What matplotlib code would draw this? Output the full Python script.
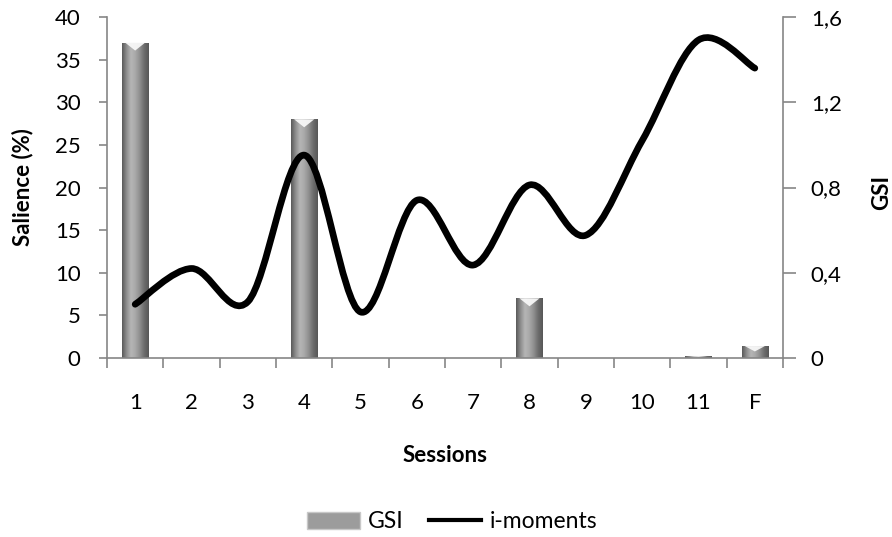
import numpy as np
import matplotlib
matplotlib.use("Agg")
import matplotlib.pyplot as plt
from matplotlib.path import Path
from matplotlib.patches import PathPatch, Polygon, Patch
from matplotlib.lines import Line2D
from matplotlib.colors import LinearSegmentedColormap

# ---- data ----
sessions = ["1", "2", "3", "4", "5", "6", "7", "8", "9", "10", "11", "F"]
gsi = [1.48, 0, 0, 1.12, 0, 0, 0, 0.28, 0, 0, 0.01, 0.056]
i_moments = [6.3, 10.5, 6.6, 23.8, 5.4, 18.5, 10.9, 20.3, 14.4, 25.5, 37.3, 34.0]
left_ticks = [0, 5, 10, 15, 20, 25, 30, 35, 40]
right_ticks = [0, 0.4, 0.8, 1.2, 1.6]
right_tick_labels = ["0", "0,4", "0,8", "1,2", "1,6"]

plt.rcParams['font.family'] = ['Lato', 'DejaVu Sans']
GRAY = '#868686'
FS = 16

W, H = 892, 537
fig = plt.figure(figsize=(W / 100, H / 100), dpi=100)
L, R, T, B = 107, 783, 17, 358
ax = fig.add_axes([L / W, 1 - B / H, (R - L) / W, (B - T) / H])
ax2 = ax.twinx()
ax.set_zorder(ax2.get_zorder() + 1)
ax.patch.set_visible(False)

x = np.arange(len(sessions))
ax.set_xlim(-0.5, len(sessions) - 0.5)
ax.set_ylim(left_ticks[0], left_ticks[-1])
ax2.set_ylim(right_ticks[0], right_ticks[-1])

# ---- bars (GSI, right axis) with cylinder-like gradient ----
bars = ax2.bar(x, gsi, width=0.47, facecolor='none', edgecolor='none')
cmap = LinearSegmentedColormap.from_list(
    'cyl', ['#5a5a5a', '#8e8e8e', '#b6b6b6', '#a8a8a8', '#8e8e8e', '#6c6c6c', '#575757'])
grad = np.linspace(0, 1, 64).reshape(1, -1)
px_per_unit = (B - T) / (right_ticks[-1] - right_ticks[0])
for b in bars:
    x0, w, h = b.get_x(), b.get_width(), b.get_height()
    if h <= 0:
        continue
    im = ax2.imshow(grad, cmap=cmap, extent=[x0, x0 + w, 0, h], aspect='auto',
                    interpolation='bicubic', zorder=2)
    im.set_clip_path(b)
    cap = min(8 / px_per_unit, h * 0.45)
    tri = Polygon([[x0 + 0.12 * w, h], [x0 + 0.88 * w, h], [x0 + 0.5 * w, h - cap]],
                  closed=True, facecolor='#f8f8f8', edgecolor='none', alpha=0.95, zorder=3)
    ax2.add_patch(tri)
ax2.set_xlim(-0.5, len(sessions) - 0.5)
ax2.set_ylim(right_ticks[0], right_ticks[-1])

# ---- smoothed line (i-moments, left axis) ----
pts = np.column_stack([x, i_moments]).astype(float)
verts = [pts[0]]
codes = [Path.MOVETO]
n = len(pts)
for i in range(n - 1):
    p0 = pts[i - 1] if i > 0 else pts[i]
    p1 = pts[i]
    p2 = pts[i + 1]
    p3 = pts[i + 2] if i + 2 < n else pts[i + 1]
    c1 = p1 + (p2 - p0) / 6.0
    c2 = p2 - (p3 - p1) / 6.0
    verts += [c1, c2, p2]
    codes += [Path.CURVE4] * 3
ax.add_patch(PathPatch(Path(verts, codes), facecolor='none', edgecolor='black',
                       lw=4.8, capstyle='round', joinstyle='round', zorder=5))

# ---- axes styling ----
for s in ['top', 'right']:
    ax.spines[s].set_visible(False)
for s in ['top', 'left', 'bottom']:
    ax2.spines[s].set_visible(False)
for s in ['left', 'bottom']:
    ax.spines[s].set_color(GRAY)
    ax.spines[s].set_linewidth(1.2)
ax2.spines['right'].set_color(GRAY)
ax2.spines['right'].set_linewidth(1.2)

ax.set_yticks(left_ticks)
ax.set_yticklabels([str(v) for v in left_ticks])
ax.tick_params(axis='y', direction='out', length=6, width=1.2, color=GRAY,
               labelsize=FS, pad=13)
ax.set_xticks(x)
ax.set_xticklabels(sessions)
ax.set_xticks(np.arange(len(sessions) + 1) - 0.5, minor=True)
ax.tick_params(axis='x', which='major', length=0, labelsize=FS, pad=25)
ax.tick_params(axis='x', which='minor', direction='out', length=7, width=1.2, color=GRAY)

ax2.set_yticks(right_ticks)
ax2.set_yticklabels(right_tick_labels)
ax2.tick_params(axis='y', direction='out', length=9, width=1.2, color=GRAY,
                labelsize=FS, pad=11)

ax.set_xlabel('Sessions', fontsize=FS, fontweight='bold', va='center')
ax.xaxis.set_label_coords(0.5, (B - 455) / (B - T))
ax.set_ylabel('Salience (%)', fontsize=FS, fontweight='bold', va='center')
ax.yaxis.set_label_coords((23 - L) / (R - L), (B - 187) / (B - T))
ax2.set_ylabel('GSI', fontsize=FS, fontweight='bold', va='center', rotation=90)
ax2.yaxis.set_label_coords((882 - L) / (R - L), (B - 192) / (B - T))

# ---- legend ----
handles = [Patch(facecolor='#9c9c9c', edgecolor='#c8c8c8', linewidth=1.0),
           Line2D([0], [0], color='black', lw=3)]
fig.legend(handles, ['GSI', 'i-moments'], loc='center', ncol=2, frameon=False,
           bbox_to_anchor=(452 / W, 1 - 522 / H), fontsize=16.5,
           handlelength=2.3, handleheight=0.7, handletextpad=0.35, columnspacing=1.1)

fig.savefig('out.png', dpi=100)
